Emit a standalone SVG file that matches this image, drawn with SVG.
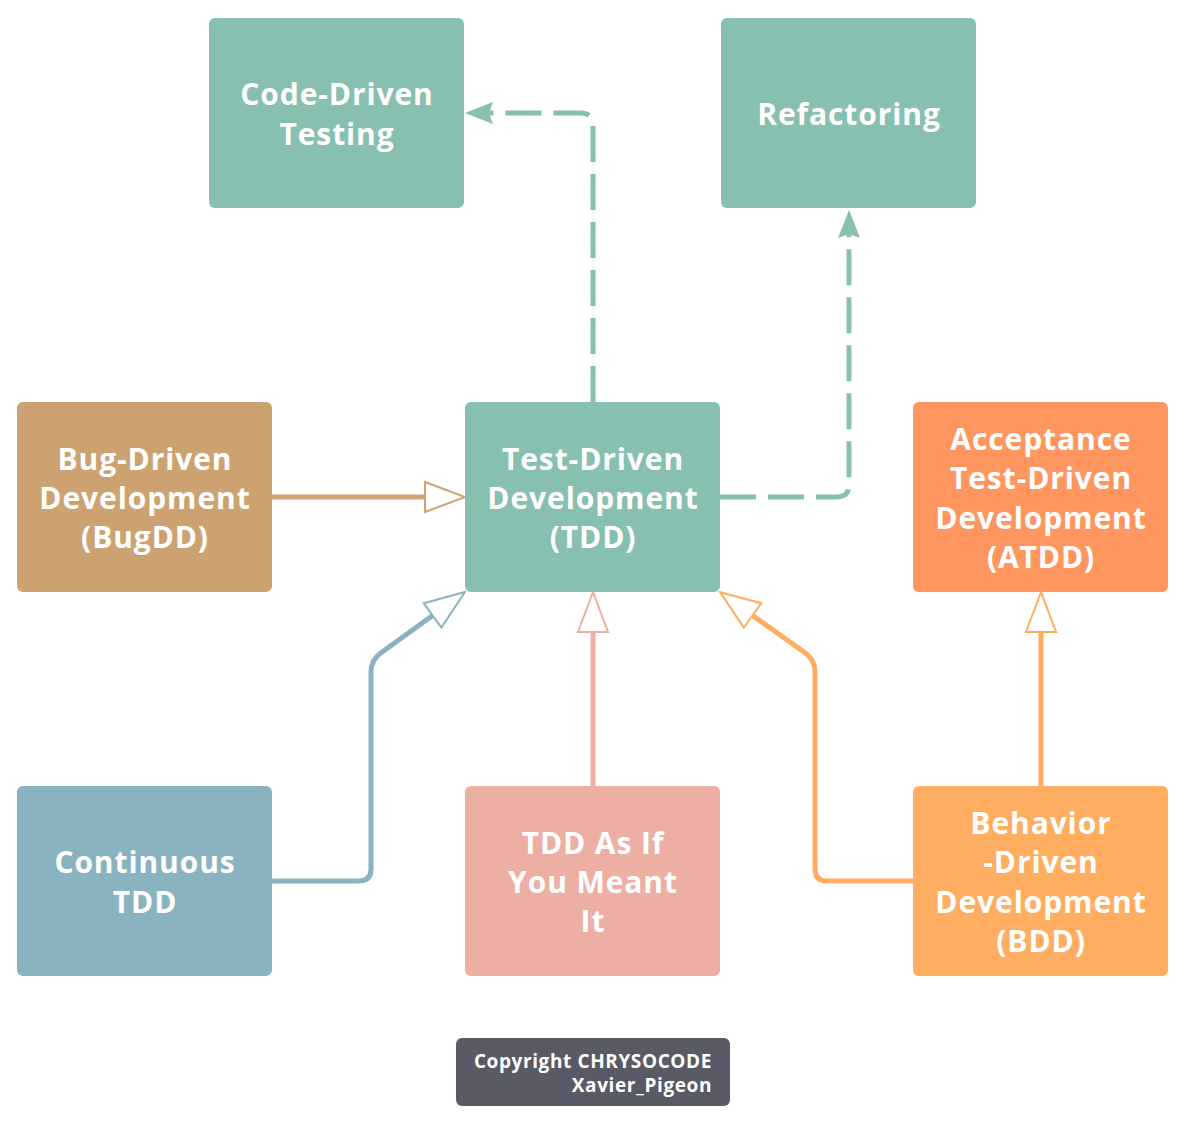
<svg xmlns="http://www.w3.org/2000/svg" width="1186" height="1124" viewBox="0 0 1186 1124">
<style>
.n{stroke:none}
.t{font-family:"Open Sans","Liberation Sans",sans-serif;font-weight:700;font-size:30px;letter-spacing:0.9px;fill:#ffffff;text-anchor:middle}
.c{fill:none;stroke-width:5}
.d{stroke:#87bfb0;stroke-dasharray:36 12}
.cp{font-family:"Open Sans","Liberation Sans",sans-serif;font-weight:700;font-size:19px;letter-spacing:0.6px;fill:#ffffff;text-anchor:end}
</style>
<defs>
<marker id="ad" viewBox="0 -12 30 24" refX="4" refY="0" markerWidth="30" markerHeight="24" markerUnits="userSpaceOnUse" orient="auto">
<path d="M28,0 L0,-11 L4,0 L0,11 Z" fill="#87bfb0"/>
</marker>
<marker id="hb" viewBox="-2 -17 44 34" refX="0" refY="0" markerWidth="44" markerHeight="34" markerUnits="userSpaceOnUse" orient="auto">
<path d="M0,-15 L40,0 L0,15 Z" fill="#ffffff" stroke="#cca370" stroke-width="2"/>
</marker>
<marker id="hc" viewBox="-2 -17 44 34" refX="0" refY="0" markerWidth="44" markerHeight="34" markerUnits="userSpaceOnUse" orient="auto">
<path d="M0,-15 L40,0 L0,15 Z" fill="#ffffff" stroke="#88b3bf" stroke-width="2"/>
</marker>
<marker id="hp" viewBox="-2 -17 44 34" refX="0" refY="0" markerWidth="44" markerHeight="34" markerUnits="userSpaceOnUse" orient="auto">
<path d="M0,-15 L40,0 L0,15 Z" fill="#ffffff" stroke="#edafa3" stroke-width="2"/>
</marker>
<marker id="ho" viewBox="-2 -17 44 34" refX="0" refY="0" markerWidth="44" markerHeight="34" markerUnits="userSpaceOnUse" orient="auto">
<path d="M0,-15 L40,0 L0,15 Z" fill="#ffffff" stroke="#ffad60" stroke-width="2"/>
</marker>
</defs>
<rect width="1186" height="1124" fill="#ffffff"/>
<g id="connectors">
<path class="c d" d="M593,402 V125 Q593,113 581,113 H489" marker-end="url(#ad)"/>
<path class="c d" d="M720,497 H837 Q849,497 849,485 V234" marker-end="url(#ad)"/>
<path class="c" stroke="#cca370" d="M272,497 H425" marker-end="url(#hb)"/>
<path class="c" stroke="#88b3bf" d="M272,881 H359 Q371,881 371,869 V672 Q371,660 380.7,653 L432.6,615.4" marker-end="url(#hc)"/>
<path class="c" stroke="#edafa3" d="M593,786 V632" marker-end="url(#hp)"/>
<path class="c" stroke="#ffad60" d="M913,881 H827 Q815,881 815,869 V672 Q815,660 805.3,653 L752.6,615.4" marker-end="url(#ho)"/>
<path class="c" stroke="#ffad60" d="M1041,786 V632" marker-end="url(#ho)"/>
</g>
<g id="code-driven">
<rect class="n" x="209" y="18" width="255" height="190" rx="6" fill="#87bfb0"/>
<text class="t" x="337" y="105">Code-Driven</text>
<text class="t" x="337" y="145">Testing</text>
</g>
<g id="refactoring">
<rect class="n" x="721" y="18" width="255" height="190" rx="6" fill="#87bfb0"/>
<text class="t" x="849" y="125">Refactoring</text>
</g>
<g id="bugdd">
<rect class="n" x="17" y="402" width="255" height="190" rx="6" fill="#cca370"/>
<text class="t" x="145" y="470">Bug-Driven</text>
<text class="t" x="145" y="509">Development</text>
<text class="t" x="145" y="548">(BugDD)</text>
</g>
<g id="tdd">
<rect class="n" x="465" y="402" width="255" height="190" rx="6" fill="#87bfb0"/>
<text class="t" x="593" y="470">Test-Driven</text>
<text class="t" x="593" y="509">Development</text>
<text class="t" x="593" y="548">(TDD)</text>
</g>
<g id="atdd">
<rect class="n" x="913" y="402" width="255" height="190" rx="6" fill="#ff9660"/>
<text class="t" x="1041" y="450">Acceptance</text>
<text class="t" x="1041" y="489">Test-Driven</text>
<text class="t" x="1041" y="529">Development</text>
<text class="t" x="1041" y="568">(ATDD)</text>
</g>
<g id="continuous">
<rect class="n" x="17" y="786" width="255" height="190" rx="6" fill="#88b3bf"/>
<text class="t" x="145" y="873">Continuous</text>
<text class="t" x="145" y="913">TDD</text>
</g>
<g id="asif">
<rect class="n" x="465" y="786" width="255" height="190" rx="6" fill="#edafa3"/>
<text class="t" x="593" y="854">TDD As If</text>
<text class="t" x="593" y="893">You Meant</text>
<text class="t" x="593" y="932">It</text>
</g>
<g id="bdd">
<rect class="n" x="913" y="786" width="255" height="190" rx="6" fill="#ffad60"/>
<text class="t" x="1041" y="834">Behavior</text>
<text class="t" x="1041" y="873">-Driven</text>
<text class="t" x="1041" y="913">Development</text>
<text class="t" x="1041" y="952">(BDD)</text>
</g>
<g id="copyright">
<rect class="n" x="456" y="1038" width="274" height="68" rx="6" fill="#5a5966"/>
<text class="cp" x="712" y="1068">Copyright CHRYSOCODE</text>
<text class="cp" x="712" y="1092">Xavier_Pigeon</text>
</g>
</svg>
